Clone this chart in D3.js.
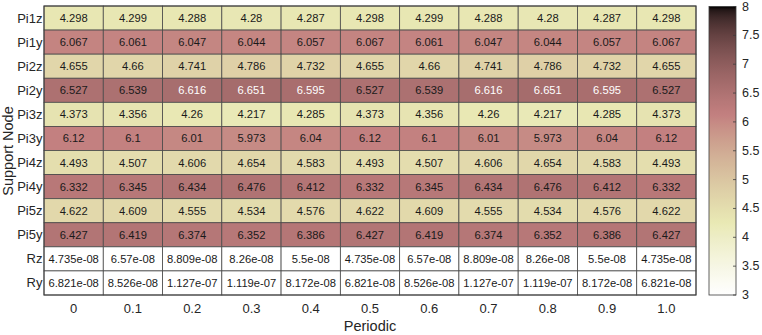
<!DOCTYPE html>
<html><head><meta charset="utf-8">
<script src="https://cdn.jsdelivr.net/npm/d3@7"></script>
<style>body{margin:0;background:#fff}svg{display:block;font-family:"Liberation Sans",Arial,sans-serif}</style>
</head><body><svg id="c" width="762" height="335"></svg>
<script>
const columns = ["0","0.1","0.2","0.3","0.4","0.5","0.6","0.7","0.8","0.9","1.0"];
const rows = ["Pi1z","Pi1y","Pi2z","Pi2y","Pi3z","Pi3y","Pi4z","Pi4y","Pi5z","Pi5y","Rz","Ry"];
const Pi1z = [4.298,4.299,4.288,4.28,4.287,4.298,4.299,4.288,4.28,4.287,4.298];
const Pi1y = [6.067,6.061,6.047,6.044,6.057,6.067,6.061,6.047,6.044,6.057,6.067];
const Pi2z = [4.655,4.66,4.741,4.786,4.732,4.655,4.66,4.741,4.786,4.732,4.655];
const Pi2y = [6.527,6.539,6.616,6.651,6.595,6.527,6.539,6.616,6.651,6.595,6.527];
const Pi3z = [4.373,4.356,4.26,4.217,4.285,4.373,4.356,4.26,4.217,4.285,4.373];
const Pi3y = [6.12,6.1,6.01,5.973,6.04,6.12,6.1,6.01,5.973,6.04,6.12];
const Pi4z = [4.493,4.507,4.606,4.654,4.583,4.493,4.507,4.606,4.654,4.583,4.493];
const Pi4y = [6.332,6.345,6.434,6.476,6.412,6.332,6.345,6.434,6.476,6.412,6.332];
const Pi5z = [4.622,4.609,4.555,4.534,4.576,4.622,4.609,4.555,4.534,4.576,4.622];
const Pi5y = [6.427,6.419,6.374,6.352,6.386,6.427,6.419,6.374,6.352,6.386,6.427];
const Rz = [4.735e-08,6.57e-08,8.809e-08,8.26e-08,5.5e-08,4.735e-08,6.57e-08,8.809e-08,8.26e-08,5.5e-08,4.735e-08];
const Ry = [6.821e-08,8.526e-08,1.127e-07,1.119e-07,8.172e-08,6.821e-08,8.526e-08,1.127e-07,1.119e-07,8.172e-08,6.821e-08];
const values = [Pi1z,Pi1y,Pi2z,Pi2y,Pi3z,Pi3y,Pi4z,Pi4y,Pi5z,Pi5y,Rz,Ry];
const colorDomain = [3, 8];
const colorTicks = [3,3.5,4,4.5,5,5.5,6,6.5,7,7.5,8];

// MATLAB-like flipped "pink" colormap
function pink(t){
  t = Math.max(0, Math.min(1, t));
  const hr = Math.min(1, t/0.375);
  const hg = Math.max(0, Math.min(1, (t-0.375)/0.375));
  const hb = Math.max(0, Math.min(1, (t-0.75)/0.25));
  const f = h => Math.round(255*Math.sqrt((2*t + h)/3));
  return `rgb(${f(hr)},${f(hg)},${f(hb)})`;
}
const tScale = d3.scaleLinear().domain(colorDomain).range([1,0]).clamp(true);
const color = v => pink(tScale(v));

function fmt(v){
  if (Math.abs(v) < 1e-4 && v !== 0){
    let s = v.toExponential(3);
    let [m, e] = s.split("e");
    if (m.includes(".")) m = m.replace(/0+$/,"").replace(/\.$/,"");
    const sign = e[0];
    let digits = e.slice(1);
    if (digits.length < 2) digits = "0"+digits;
    return m + "e" + sign + digits;
  }
  let s = v.toPrecision(4);
  if (s.includes(".")) s = s.replace(/0+$/,"").replace(/\.$/,"");
  return s;
}

const svg = d3.select("#c");
const L = 44, R = 696, T = 6, B = 295;
const x = d3.scaleBand().domain(columns).range([L, R]);
const y = d3.scaleBand().domain(rows).range([T, B]);

const cells = [];
rows.forEach((r,i)=>columns.forEach((c,j)=>cells.push({r,c,v:values[i][j]})));

const g = svg.append("g");
g.selectAll("rect.cell").data(cells).enter().append("rect")
  .attr("x", d=>x(d.c)).attr("y", d=>y(d.r))
  .attr("width", x.bandwidth()).attr("height", y.bandwidth())
  .attr("fill", d=>color(d.v))
  .attr("stroke", "#4a4a4a").attr("stroke-width", 0.8);

g.selectAll("text.val").data(cells).enter().append("text")
  .attr("x", d=>x(d.c)+x.bandwidth()/2).attr("y", d=>y(d.r)+y.bandwidth()/2)
  .attr("text-anchor","middle").attr("dominant-baseline","central")
  .attr("font-size", 11.2)
  .attr("fill", d=> d.v > 6.56 ? "#fff" : "#1a1a1a")
  .text(d=>fmt(d.v));

g.append("rect").attr("x",L).attr("y",T).attr("width",R-L).attr("height",B-T)
  .attr("fill","none").attr("stroke","#3c3c3c").attr("stroke-width",1);

// y labels
svg.append("g").selectAll("text").data(rows).enter().append("text")
  .attr("x", L-1.5).attr("y", d=>y(d)+y.bandwidth()/2)
  .attr("text-anchor","end").attr("dominant-baseline","central")
  .attr("font-size", 13).attr("fill","#262626").text(d=>d);

// x labels
svg.append("g").selectAll("text").data(columns).enter().append("text")
  .attr("x", d=>x(d)+x.bandwidth()/2).attr("y", B+13)
  .attr("text-anchor","middle").attr("dominant-baseline","central")
  .attr("font-size", 13).attr("fill","#262626").text(d=>d);

svg.append("text").attr("x", (L+R)/2).attr("y", 326)
  .attr("text-anchor","middle").attr("dominant-baseline","central")
  .attr("font-size", 14.5).attr("fill","#262626").text("Periodic");

svg.append("text").attr("transform", `translate(7.5,151) rotate(-90)`)
  .attr("text-anchor","middle").attr("dominant-baseline","central")
  .attr("font-size", 14.5).attr("fill","#262626").text("Support Node");

// colorbar
const cbX = 709, cbW = 27;
const cy = d3.scaleLinear().domain(colorDomain).range([295, 6.5]);
const defs = svg.append("defs");
const grad = defs.append("linearGradient").attr("id","cbg")
  .attr("x1",0).attr("y1",1).attr("x2",0).attr("y2",0);
d3.range(0, 101).forEach(i=>{
  const v = colorDomain[0] + (colorDomain[1]-colorDomain[0])*i/100;
  grad.append("stop").attr("offset", (i)+"%").attr("stop-color", color(v));
});
svg.append("rect").attr("x", cbX).attr("y", cy(8)).attr("width", cbW).attr("height", cy(3)-cy(8))
  .attr("fill","url(#cbg)").attr("stroke","#3c3c3c").attr("stroke-width",0.8);
const cb = svg.append("g");
cb.selectAll("line").data(colorTicks).enter().append("line")
  .attr("x1", cbX+cbW-3).attr("x2", cbX+cbW).attr("y1", d=>cy(d)).attr("y2", d=>cy(d))
  .attr("stroke","#3c3c3c").attr("stroke-width",0.8);
cb.selectAll("text").data(colorTicks).enter().append("text")
  .attr("x", cbX+cbW+6).attr("y", d=>cy(d))
  .attr("dominant-baseline","central").attr("font-size", 12.5).attr("fill","#262626")
  .text(d=>d);
</script></body></html>
